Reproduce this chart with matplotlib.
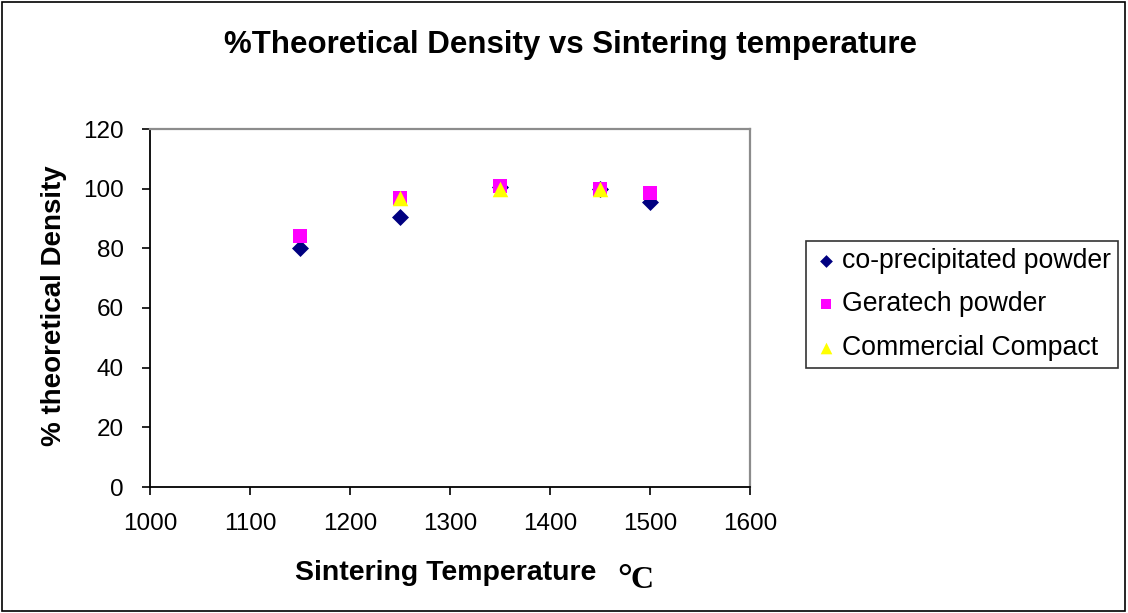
import matplotlib
matplotlib.use("Agg")
import matplotlib.pyplot as plt
from matplotlib.patches import Rectangle

plt.rcParams['font.family'] = ['Liberation Sans', 'DejaVu Sans']

temps_co = [1150, 1250, 1350, 1450, 1500]
density_co = [80, 90.5, 100.5, 100, 95.5]

temps_ger = [1150, 1250, 1350, 1450, 1500]
density_ger = [84, 97, 101, 100, 98.5]

temps_com = [1250, 1350, 1450]
density_com = [97, 100, 100]

x_ticks = [1000, 1100, 1200, 1300, 1400, 1500, 1600]
y_ticks = [0, 20, 40, 60, 80, 100, 120]

W, H = 1128, 613
fig = plt.figure(figsize=(W / 100, H / 100), dpi=100)
ax = fig.add_axes([150 / W, 1 - 487 / H, 600 / W, 358 / H])

ax.scatter(temps_co, density_co, marker='D', s=75, color='#000080',
           label='co-precipitated powder', zorder=3, linewidths=0)
ax.scatter(temps_ger, density_ger, marker='s', s=100, color='#FF00FF',
           label='Geratech powder', zorder=4, linewidths=0)
ax.scatter(temps_com, density_com, marker='^', s=125, color='#FFFF00',
           label='Commercial Compact', zorder=5, linewidths=0)

ax.set_xlim(1000, 1600)
ax.set_ylim(0, 120)
ax.set_xticks(x_ticks)
ax.set_yticks(y_ticks)
ax.tick_params(direction='out', length=6, width=1.2, labelsize=17.5, colors='black')
ax.tick_params(axis='x', pad=13)
ax.tick_params(axis='y', pad=13)

for side in ('left', 'bottom'):
    ax.spines[side].set_color('black')
    ax.spines[side].set_linewidth(1.3)
for side in ('top', 'right'):
    ax.spines[side].set_color('#8c8c8c')
    ax.spines[side].set_linewidth(1.6)

# axis titles
fig.text(446 / W, 1 - 573 / H, 'Sintering Temperature', fontsize=20.5,
         fontweight='bold', ha='center', va='center')
fig.text(622 / W, 1 - 570 / H, r'$\circ$', fontsize=26, ha='center', va='center')
fig.text(642 / W, 1 - 581 / H, 'C', fontsize=23, fontweight='bold',
         family='Liberation Serif', ha='center', va='center')
fig.text(54 / W, 1 - 306 / H, '% theoretical Density', fontsize=20,
         fontweight='bold', ha='center', va='center', rotation=90)

fig.text(571 / W, 1 - 45 / H, '%Theoretical Density vs Sintering temperature',
         fontsize=22.5, fontweight='bold', ha='center', va='center')

leg = fig.legend(loc='upper left', bbox_to_anchor=(806 / W, 1 - 241 / H),
                 bbox_transform=fig.transFigure, fontsize=19.2, frameon=True,
                 fancybox=False, edgecolor='black', markerscale=0.75,
                 handletextpad=0.1, labelspacing=0.66, borderpad=0.25,
                 handlelength=1.0, borderaxespad=0)
leg.get_frame().set_linewidth(1.2)

fig.patches.append(Rectangle((2 / W, 2 / H), 1123 / W, 609 / H,
                             transform=fig.transFigure, fill=False,
                             edgecolor='black', linewidth=1.2))

fig.savefig('out.png', dpi=100, facecolor='white')
